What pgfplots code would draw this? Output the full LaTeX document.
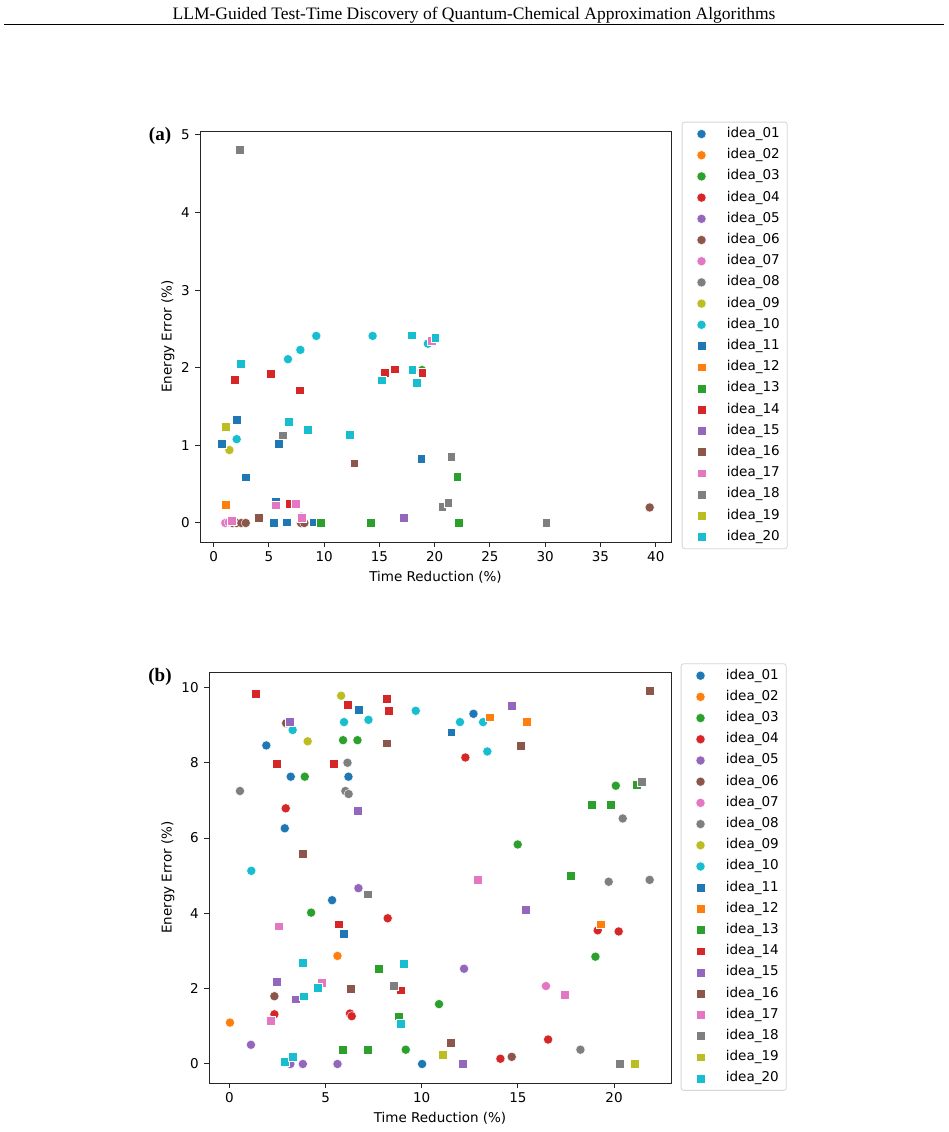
\documentclass[border=0pt]{standalone}
\usepackage{fontspec}
\usepackage{pgfplots}
\pgfplotsset{compat=1.18}
\setmainfont{Liberation Serif}
\newfontfamily\dejavu{DejaVu Sans}

% tab10 palette
\definecolor{c0}{HTML}{1F77B4}
\definecolor{c1}{HTML}{FF7F0E}
\definecolor{c2}{HTML}{2CA02C}
\definecolor{c3}{HTML}{D62728}
\definecolor{c4}{HTML}{9467BD}
\definecolor{c5}{HTML}{8C564B}
\definecolor{c6}{HTML}{E377C2}
\definecolor{c7}{HTML}{7F7F7F}
\definecolor{c8}{HTML}{BCBD22}
\definecolor{c9}{HTML}{17BECF}
\definecolor{legframe}{HTML}{D6D6D6}

\newcommand{\mplfont}{\dejavu\fontsize{13.5}{16}\selectfont}

\pgfplotsset{
  legimg/.style={legend image code/.code={%
      \path (-11.5pt,-6pt) (8.5pt,6pt);
      \draw[##1] plot coordinates {(0pt,0pt)};}},
  ci/.style={only marks, color=#1, mark=*, mark size=4.6pt,
    mark options={fill=#1, draw=white, line width=0.4pt}, legimg},
  sq/.style={only marks, color=#1, mark=square*, mark size=4.4pt,
    mark options={fill=#1, draw=white, line width=0.4pt}, legimg},
  panel/.style={
    scale only axis,
    height=411pt,
    axis line style={line width=1pt, black!85},
    tick style={line width=1pt, black!85},
    tick align=outside,
    major tick length=4.7pt,
    xtick pos=bottom, ytick pos=left,
    /pgf/number format/assume math mode=true,
    tick label style={font=\mplfont},
    xticklabel style={inner sep=0pt, yshift=-4.5pt},
    yticklabel style={inner sep=0pt, xshift=-5.5pt},
    label style={font=\mplfont},
    xlabel={Time Reduction (\%)},
    ylabel={Energy Error (\%)},
    legend cell align=left,
    legend style={font=\mplfont, anchor=north west, fill=white,
      draw=legframe, line width=0.8pt, rounded corners=2.5pt,
      inner xsep=7.5pt, inner ysep=5.5pt, row sep=8.4pt, column sep=16.5pt,
      nodes={inner sep=0pt, text height=9.8pt, text depth=3pt}},
  },
}

\begin{document}
\begin{tikzpicture}
\path[use as bounding box] (0pt,0pt) rectangle (948pt,-1132pt);

% running header
\node[anchor=base, font=\fontsize{17.5}{20}\selectfont] at (474pt,-20pt)
  {LLM-Guided Test-Time Discovery of Quantum-Chemical Approximation Algorithms};
\draw[line width=0.9pt] (4pt,-24.5pt) -- (944pt,-24.5pt);

% panel labels
\node[anchor=base, font=\bfseries\fontsize{19}{22}\selectfont] at (160pt,-140.5pt) {(a)};
\node[anchor=base, font=\bfseries\fontsize{19}{22}\selectfont] at (160pt,-681.5pt) {(b)};

% ---------------- (a) ----------------
\begin{axis}[panel,
  at={(200pt,-131pt)}, anchor=north west, width=471pt,
  xmin=-1.24, xmax=41.38, ymin=-0.245, ymax=5.05,
  xtick={0,5,...,40}, ytick={0,1,2,3,4,5},
  xlabel style={at={(axis description cs:0.5,-0.085)}, anchor=center},
  ylabel style={at={(axis description cs:-0.068,0.5)}, anchor=center, rotate=0},
  legend style={at={(axis description cs:1.0227,1.0226)}},
]
\addlegendimage{ci=c0}\addlegendentry{idea\_01}
\addlegendimage{ci=c1}\addlegendentry{idea\_02}
\addplot[ci=c2] coordinates {(18.85,1.97)};
\addlegendentry{idea\_03}
\addlegendimage{ci=c3}\addlegendentry{idea\_04}
\addplot[ci=c4] coordinates {(7.95,0.08)};
\addlegendentry{idea\_05}
\addplot[ci=c5] coordinates {(1.7,0) (2.1,0) (2.5,0) (2.9,0) (7.9,0) (8.2,0) (39.45,0.2)};
\addlegendentry{idea\_06}
\addplot[ci=c6] coordinates {(1.05,0) (1.35,0.01)};
\addlegendentry{idea\_07}
\addlegendimage{ci=c7}\addlegendentry{idea\_08}
\addplot[ci=c8] coordinates {(1.42,0.94)};
\addlegendentry{idea\_09}
\addplot[ci=c9] coordinates {(9.28,2.41) (14.38,2.41) (7.84,2.23) (6.72,2.11) (2.08,1.08) (19.38,2.31)};
\addlegendentry{idea\_10}
\addplot[sq=c0] coordinates {(2.05,1.33) (0.69,1.02) (5.88,1.02) (2.89,0.59) (18.78,0.83) (5.6,0.27) (5.43,0) (6.6,0.01) (9.04,0.01)};
\addlegendentry{idea\_11}
\addplot[sq=c1] coordinates {(1.06,0.24)};
\addlegendentry{idea\_12}
\addplot[sq=c2] coordinates {(22.03,0.6) (22.15,0) (14.2,0) (9.65,0)};
\addlegendentry{idea\_13}
\addplot[sq=c3] coordinates {(1.87,1.85) (5.15,1.92) (7.81,1.71) (15.49,1.94) (16.4,1.98) (18.87,1.94) (6.87,0.25)};
\addlegendentry{idea\_14}
\addplot[sq=c4] coordinates {(17.2,0.065)};
\addlegendentry{idea\_15}
\addplot[sq=c5] coordinates {(12.72,0.77) (4.07,0.07)};
\addlegendentry{idea\_16}
\addplot[sq=c6] coordinates {(19.74,2.35) (5.6,0.23) (7.45,0.25) (7.93,0.065) (1.65,0.03)};
\addlegendentry{idea\_17}
\addplot[sq=c7] coordinates {(2.32,4.81) (6.27,1.13) (21.49,0.85) (20.68,0.21) (21.22,0.26) (30.08,0)};
\addlegendentry{idea\_18}
\addplot[sq=c8] coordinates {(1.05,1.24)};
\addlegendentry{idea\_19}
\addplot[sq=c9] coordinates {(17.93,2.42) (20.04,2.39) (2.44,2.05) (17.96,1.97) (15.19,1.84) (18.38,1.81) (6.81,1.30) (8.53,1.20) (12.27,1.14)};
\addlegendentry{idea\_20}
\end{axis}

% ---------------- (b) ----------------
\begin{axis}[panel,
  at={(209pt,-672pt)}, anchor=north west, width=462pt,
  xmin=-1.06, xmax=22.96, ymin=-0.505, ymax=10.41,
  xtick={0,5,10,15,20}, ytick={0,2,4,6,8,10},
  xlabel style={at={(axis description cs:0.5,-0.085)}, anchor=center},
  ylabel style={at={(axis description cs:-0.0887,0.5)}, anchor=center, rotate=0},
  legend style={at={(axis description cs:1.021,1.021)}},
]
\addplot[ci=c0] coordinates {(1.92,8.46) (3.19,7.63) (2.88,6.26) (6.19,7.63) (5.34,4.35) (12.69,9.30) (10.02,0)};
\addlegendentry{idea\_01}
\addplot[ci=c1] coordinates {(0.03,1.10) (5.62,2.87)};
\addlegendentry{idea\_02}
\addplot[ci=c2] coordinates {(5.91,8.60) (6.66,8.60) (3.92,7.63) (4.25,4.02) (14.99,5.83) (20.09,7.39) (19.03,2.85) (10.9,1.59) (9.17,0.38)};
\addlegendentry{idea\_03}
\addplot[ci=c3] coordinates {(2.93,6.79) (12.27,8.14) (8.23,3.87) (19.15,3.55) (20.24,3.52) (2.34,1.32) (6.27,1.34) (6.36,1.27) (14.09,0.14) (16.57,0.65)};
\addlegendentry{idea\_04}
\addplot[ci=c4] coordinates {(1.12,0.51) (3.17,0) (3.82,0) (5.62,0) (6.71,4.67) (12.2,2.53)};
\addlegendentry{idea\_05}
\addplot[ci=c5] coordinates {(2.95,9.05) (2.34,1.80) (14.68,0.19)};
\addlegendentry{idea\_06}
\addplot[ci=c6] coordinates {(16.46,2.07)};
\addlegendentry{idea\_07}
\addplot[ci=c7] coordinates {(0.55,7.25) (6.14,8.0) (6.03,7.25) (6.2,7.17) (20.45,6.52) (19.72,4.84) (21.85,4.89) (18.25,0.38)};
\addlegendentry{idea\_08}
\addplot[ci=c8] coordinates {(5.81,9.78) (4.07,8.57)};
\addlegendentry{idea\_09}
\addplot[ci=c9] coordinates {(3.29,8.87) (5.96,9.08) (7.23,9.14) (9.69,9.38) (11.99,9.08) (13.19,9.08) (13.41,8.30) (1.14,5.13)};
\addlegendentry{idea\_10}
\addplot[sq=c0] coordinates {(6.72,9.41) (11.53,8.81) (5.96,3.47)};
\addlegendentry{idea\_11}
\addplot[sq=c1] coordinates {(13.52,9.21) (15.46,9.08) (19.29,3.71)};
\addlegendentry{idea\_12}
\addplot[sq=c2] coordinates {(18.84,6.88) (19.83,6.88) (21.18,7.41) (17.73,4.99) (7.75,2.53) (8.79,1.27) (5.91,0.38) (7.18,0.38)};
\addlegendentry{idea\_13}
\addplot[sq=c3] coordinates {(1.35,9.83) (2.44,7.98) (5.44,7.98) (6.14,9.55) (8.16,9.70) (8.27,9.38) (5.67,3.71) (8.91,1.96)};
\addlegendentry{idea\_14}
\addplot[sq=c4] coordinates {(3.15,9.08) (6.66,6.72) (14.68,9.52) (15.42,4.09) (2.44,2.18) (3.45,1.72) (12.11,0)};
\addlegendentry{idea\_15}
\addplot[sq=c5] coordinates {(3.81,5.59) (8.16,8.52) (15.15,8.46) (21.85,9.91) (6.29,1.99) (11.49,0.57)};
\addlegendentry{idea\_16}
\addplot[sq=c6] coordinates {(2.56,3.66) (12.89,4.89) (4.82,2.15) (2.15,1.15) (17.42,1.83)};
\addlegendentry{idea\_17}
\addplot[sq=c7] coordinates {(7.18,4.51) (8.54,2.07) (21.44,7.49) (20.28,0)};
\addlegendentry{idea\_18}
\addplot[sq=c8] coordinates {(11.11,0.24) (21.07,0)};
\addlegendentry{idea\_19}
\addplot[sq=c9] coordinates {(3.81,2.70) (9.06,2.66) (4.61,2.02) (3.86,1.80) (8.89,1.08) (2.89,0.06) (3.29,0.20)};
\addlegendentry{idea\_20}
\end{axis}
\end{tikzpicture}
\end{document}
